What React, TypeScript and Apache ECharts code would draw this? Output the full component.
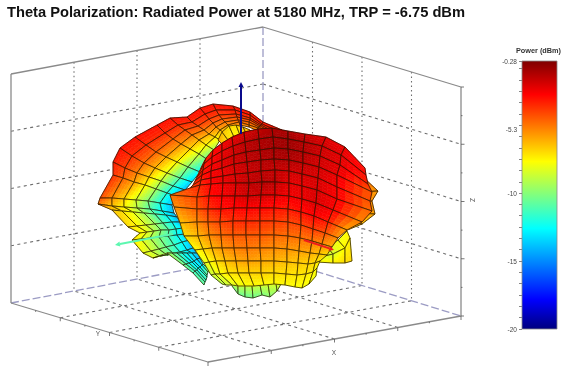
import React, { useEffect, useRef } from "react";
import * as echarts from "echarts";

const chartTitle = "Theta Polarization: Radiated Power at 5180 MHz, TRP = -6.75 dBm";
const barTitle = "Power (dBm)";
const barLabels = [-20, -15, -10, -5.3, -0.28];
const barMin = -20;
const barMax = -0.28;
const jet = ["#00007f", "#0000ff", "#00ffff", "#ffff00", "#ff0000", "#7f0000"];
const jetStops = [0, 0.11, 0.375, 0.625, 0.875, 1];

// Main lobe facing the viewer: rows top to bottom, columns left to right.
const frontX = [
  [201, 206, 213, 222, 232, 244, 258, 272, 288, 305, 326, 345, 365],
  [199, 204, 212, 222, 233, 245, 259, 273, 288, 304, 322, 341, 366],
  [197, 203, 212, 222, 234, 246, 260, 274, 288, 303, 320, 340, 368],
  [195, 202, 211, 222, 234, 247, 261, 274, 289, 303, 319, 337, 372],
  [193, 201, 211, 223, 235, 248, 261, 275, 289, 302, 318, 337, 370],
  [190, 200, 211, 223, 236, 249, 262, 275, 289, 302, 317, 337, 372],
  [170, 197, 209, 222, 235, 248, 261, 275, 289, 302, 316, 333, 362],
  [174, 197, 208, 221, 234, 247, 260, 274, 288, 301, 314, 328, 347],
  [180, 197, 208, 220, 233, 246, 260, 274, 288, 301, 313, 325, 338],
  [184, 198, 209, 221, 233, 246, 260, 274, 288, 300, 312, 322, 332],
  [195, 203, 212, 222, 234, 247, 260, 274, 287, 299, 310, 319, 327],
  [204, 209, 216, 225, 236, 248, 261, 274, 287, 298, 308, 315, 320],
  [211, 215, 220, 228, 238, 249, 261, 274, 286, 297, 306, 313, 317],
  [222, 226, 232, 238, 245, 254, 264, 274, 285, 295, 302, 309, 316],
];
const frontY = [
  [168, 158, 150, 143, 137, 132, 129, 128, 131, 134, 137, 147, 168],
  [173, 164, 157, 151, 146, 142, 139, 137, 139, 142, 146, 155, 175],
  [177, 170, 164, 160, 155, 152, 150, 148, 149, 152, 156, 165, 184],
  [181, 175, 171, 168, 164, 162, 160, 159, 160, 163, 167, 175, 192],
  [185, 180, 178, 176, 174, 173, 171, 170, 171, 174, 178, 187, 201],
  [188, 185, 184, 183, 183, 183, 182, 182, 183, 186, 190, 199, 211],
  [195, 197, 196, 196, 196, 196, 195, 195, 196, 199, 203, 210, 222],
  [207, 209, 209, 209, 208, 208, 208, 208, 209, 212, 216, 222, 230],
  [223, 222, 222, 222, 221, 221, 221, 221, 222, 225, 229, 233, 238],
  [236, 236, 235, 235, 235, 235, 235, 235, 236, 238, 241, 244, 247],
  [250, 249, 248, 248, 248, 248, 248, 248, 249, 251, 253, 254, 255],
  [263, 262, 261, 261, 261, 261, 261, 261, 262, 263, 264, 263, 261],
  [275, 274, 274, 273, 273, 273, 273, 273, 274, 275, 274, 272, 268],
  [284, 285, 285, 286, 286, 286, 285, 284, 285, 287, 288, 284, 276],
];
const frontV = [
  [-4, -3.5, -3, -2.6, -2.2, -2, -1.6, -1.2, -1.2, -1.8, -2.2, -2.5, -3],
  [-3.8, -3.2, -2.8, -2.4, -1.9, -1.5, -1.2, -1, -0.9, -1.3, -1.8, -2.2, -3],
  [-3.6, -3.2, -2.7, -2.2, -1.8, -1.4, -1.2, -1, -0.9, -1.2, -1.8, -2.2, -3.5],
  [-3.4, -3, -2.6, -2.3, -1.9, -1.5, -1.3, -1.2, -1.2, -1.5, -1.9, -2.3, -4.5],
  [-3.8, -3.3, -2.6, -2.3, -2, -1.7, -1.5, -1.6, -1.8, -1.9, -2, -2.6, -4.5],
  [-4, -3.4, -2.8, -2.4, -2, -1.5, -1.3, -1.5, -2.2, -2.3, -2, -2.6, -5],
  [-5, -4, -3, -2.6, -2.2, -1.8, -1.8, -2.1, -2.5, -2.4, -2, -2.6, -5.5],
  [-5.5, -4.5, -3.6, -3, -2.8, -2.7, -2.8, -3, -3.2, -3, -2.7, -3.2, -6],
  [-6.5, -5.4, -4.6, -4, -3.6, -3.4, -3.6, -3.8, -4, -4, -3.8, -4.2, -5.5],
  [-7, -6.3, -5.4, -4.8, -4.4, -4.4, -4.4, -4.7, -4.8, -4.9, -5, -5.4, -6],
  [-7.8, -7, -6.2, -5.6, -5.2, -5, -5.2, -5.4, -5.6, -5.8, -6, -6.5, -7],
  [-8.3, -7.8, -7, -6.5, -6, -5.8, -6, -6.2, -6.4, -6.6, -6.8, -7, -7.5],
  [-8.8, -8.3, -7.8, -7.2, -7, -6.8, -6.8, -7, -7, -7.2, -7.2, -7.4, -7.7],
  [-9.2, -8.8, -8.4, -8, -7.8, -7.6, -7.6, -7.6, -7.6, -7.7, -7.8, -7.8, -8],
];

// Rear lobe: one row per meridian, outer silhouette first, inner edge last.
const backX = [
  [282, 278, 274, 271, 268, 265, 262],
  [263, 262, 261, 260, 259, 258, 256],
  [250, 250, 250, 250, 249, 249, 249],
  [233, 235, 236, 237, 238, 239, 240],
  [213, 216, 219, 222, 225, 228, 231],
  [200, 205, 209, 213, 216, 220, 224],
  [187, 192, 198, 204, 209, 215, 220],
  [170, 178, 185, 192, 199, 206, 214],
  [157, 165, 173, 181, 190, 199, 208],
  [135, 146, 156, 166, 177, 188, 200],
  [120, 132, 144, 155, 167, 180, 192],
  [113, 125, 137, 149, 161, 173, 185],
  [113, 123, 134, 145, 156, 167, 178],
  [100, 112, 124, 136, 148, 160, 172],
  [98, 112, 124, 137, 150, 162, 174],
  [112, 122, 133, 144, 155, 166, 177],
  [128, 137, 146, 155, 163, 172, 180],
  [140, 147, 154, 161, 169, 176, 183],
  [132, 141, 150, 159, 168, 177, 185],
  [143, 151, 159, 166, 174, 182, 190],
  [153, 160, 167, 173, 180, 187, 193],
  [167, 172, 177, 182, 187, 192, 197],
  [183, 186, 189, 192, 194, 197, 200],
  [193, 195, 197, 198, 200, 202, 203],
  [204, 205, 206, 207, 207, 208, 209],
];
const backY = [
  [130, 131, 132, 132, 133, 133, 134],
  [122, 124, 125, 126, 127, 128, 130],
  [112, 115, 118, 120, 122, 125, 127],
  [106, 110, 114, 117, 120, 122, 125],
  [104, 110, 115, 119, 122, 125, 128],
  [108, 114, 119, 123, 127, 130, 133],
  [117, 122, 126, 130, 134, 137, 140],
  [118, 125, 130, 135, 140, 145, 150],
  [125, 133, 139, 144, 149, 154, 160],
  [137, 145, 152, 157, 162, 167, 172],
  [148, 156, 163, 168, 173, 178, 182],
  [162, 168, 173, 177, 181, 186, 190],
  [175, 178, 182, 185, 189, 193, 197],
  [198, 198, 199, 200, 201, 203, 205],
  [204, 206, 207, 208, 209, 211, 213],
  [210, 211, 212, 213, 214, 215, 217],
  [227, 226, 225, 224, 223, 222, 222],
  [233, 232, 231, 230, 230, 229, 228],
  [240, 239, 238, 237, 236, 235, 234],
  [253, 251, 249, 247, 245, 242, 240],
  [258, 256, 255, 253, 252, 250, 248],
  [253, 253, 253, 253, 253, 253, 253],
  [265, 264, 263, 262, 261, 259, 258],
  [273, 271, 270, 268, 267, 265, 264],
  [285, 282, 280, 277, 275, 272, 270],
];
const backV = [
  [-3, -3.2, -3.5, -4, -4.5, -5, -5.5],
  [-3, -3.2, -3.5, -4, -4.5, -5, -5.5],
  [-3, -3.2, -3.5, -4, -4.5, -5, -5.5],
  [-3, -3.2, -3.5, -4, -4.5, -5, -5.5],
  [-3, -3.3, -3.8, -4.3, -5, -5.5, -6],
  [-3, -3.3, -3.8, -4.5, -5.2, -6, -7],
  [-3, -3.5, -4, -5, -6, -7, -8],
  [-3, -3.5, -4.2, -5, -6.2, -7.5, -9.5],
  [-3, -3.5, -4.5, -5.5, -6.8, -8.5, -11],
  [-3, -3.6, -4.6, -5.9, -7.6, -10, -12.5],
  [-3, -3.6, -4.8, -6.2, -8.2, -11, -13.5],
  [-3.2, -4, -5.2, -6.8, -8.8, -11.5, -14],
  [-3.6, -4.6, -5.8, -7.4, -9.4, -12, -14],
  [-4.2, -5.5, -6.8, -8.5, -10, -12, -14],
  [-5, -6.5, -7.5, -9, -11, -12.5, -14],
  [-6.5, -7, -8, -9.5, -11, -12.5, -14],
  [-7, -7.5, -8.5, -9.5, -11, -12.5, -14],
  [-7.5, -8, -9, -10, -11, -12, -13],
  [-7, -8, -9, -10, -11, -12.5, -13.5],
  [-8, -8.5, -9.5, -10.5, -11.5, -12.5, -13.5],
  [-8, -9, -10, -11, -12, -13, -14],
  [-9, -10, -11, -12, -12.5, -13, -14],
  [-10, -11, -12, -13, -13, -13.5, -14],
  [-11, -11.5, -12, -12.5, -13, -13, -13],
  [-10.5, -11, -11.5, -11.5, -11, -10.5, -10],
];

// Small patches around the main lobe.
const dimpleX = [
  [218, 222, 229, 236, 243, 250],
  [222, 228, 234, 240, 246, 250],
];
const dimpleY = [
  [140, 132, 126, 125, 127, 130],
  [144, 140, 137, 135, 133, 131],
];
const dimpleV = [
  [-6, -6.5, -7, -7, -6.5, -6],
  [-6.5, -7, -7.5, -7.5, -7, -6.5],
];
const fringeX = [
  [232, 238, 245, 252, 260, 268, 276, 281],
  [232, 238, 245, 253, 262, 270, 277, 281],
];
const fringeY = [
  [284, 285, 285, 285, 285, 284, 283, 283],
  [286, 294, 297, 298, 295, 297, 291, 284],
];
const fringeV = [
  [-8.6, -8.6, -8.6, -8.6, -8.6, -8.4, -8.2, -8],
  [-10, -10.4, -10.6, -10.4, -10.2, -10, -9.4, -8.6],
];
const wingX = [
  [316, 328, 338, 347],
  [317, 333, 345, 350],
  [317, 333, 345, 352],
];
const wingY = [
  [253, 248, 240, 231],
  [258, 254, 248, 238],
  [262, 263, 263, 261],
];
const wingV = [
  [-8, -8, -8, -7.6],
  [-8.2, -8.6, -7.6, -7.4],
  [-7.6, -7.4, -7, -7],
];
const rimX = [
  [360, 360, 358, 354, 349, 341],
  [362, 378, 372, 375, 362, 345],
];
const rimY = [
  [178, 192, 203, 213, 221, 228],
  [176, 191, 201, 214, 224, 231],
];
const rimV = [
  [-4, -5, -5, -5, -6, -6],
  [-4.5, -5.8, -5.6, -6, -6.5, -6.5],
];
const meshes = [
  [backX, backY, backV],
  [dimpleX, dimpleY, dimpleV],
  [rimX, rimY, rimV],
  [wingX, wingY, wingV],
  [fringeX, fringeY, fringeV],
  [frontX, frontY, frontV],
];

// Box corners as seen in the picture.
const topLeft = [11, 74];
const topBack = [263, 27];
const topRight = [461, 87];
const floorLeft = [11, 303];
const floorBack = [263, 255];
const floorRight = [461, 316];
const floorFront = [208, 362];
const gridSteps = [0.25, 0.5, 0.75];
const tickSteps = [0.125, 0.25, 0.375, 0.5, 0.625, 0.75, 0.875];

// Axis arrows: tail x, tail y, tip x, tip y.
const zArrow = [241, 134, 241, 82];
const yArrow = [173, 234, 115, 245];
const xArrow = [304, 240, 334, 250];

const mix = (a: number[], b: number[], t: number) => [a[0] + (b[0] - a[0]) * t, a[1] + (b[1] - a[1]) * t];
const seg = (a: number[], b: number[]) => [a[0], a[1], b[0], b[1]];

function buildFrame() {
  const solid = [
    seg(topLeft, topBack), seg(topBack, topRight), seg(topRight, floorRight),
    seg(floorRight, floorFront), seg(floorFront, floorLeft), seg(floorLeft, topLeft),
  ];
  const back = [seg(topBack, floorBack), seg(floorLeft, floorBack), seg(floorBack, floorRight)];
  const dotted: number[][] = [];
  const dashed: number[][] = [];
  gridSteps.forEach((t) => {
    dotted.push(seg(mix(topLeft, topBack, t), mix(floorLeft, floorBack, t)));
    dotted.push(seg(mix(topBack, topRight, t), mix(floorBack, floorRight, t)));
    const l = mix(topLeft, floorLeft, t);
    const b = mix(topBack, floorBack, t);
    const r = mix(topRight, floorRight, t);
    dashed.push(seg(l, b), seg(b, r));
    dashed.push(seg(mix(floorLeft, floorFront, t), mix(floorBack, floorRight, t)));
    dashed.push(seg(mix(floorFront, floorRight, t), mix(floorLeft, floorBack, t)));
  });
  const ticks: number[][] = [];
  tickSteps.forEach((t, i) => {
    const len = i % 2 === 1 ? 3.5 : 1.5;
    const a = mix(floorLeft, floorFront, t);
    ticks.push([a[0], a[1], a[0], a[1] + len]);
    const c = mix(floorFront, floorRight, t);
    ticks.push([c[0], c[1], c[0], c[1] + len]);
    const e = mix(topRight, floorRight, t);
    ticks.push([e[0], e[1], e[0] + len, e[1]]);
  });
  ticks.push([floorFront[0], floorFront[1], floorFront[0], floorFront[1] + 4]);
  ticks.push([floorRight[0], floorRight[1], floorRight[0], floorRight[1] + 4]);
  ticks.push([topRight[0], topRight[1], topRight[0] + 3, topRight[1]]);
  ticks.push([floorRight[0], floorRight[1], floorRight[0] + 3, floorRight[1]]);
  const rows: number[][] = [];
  const add = (list: number[][], kind: number) => list.forEach((s) => rows.push([...s, kind]));
  add(dotted, 0);
  add(dashed, 1);
  add(back, 2);
  add(solid, 3);
  add(ticks, 4);
  return rows;
}

function buildCells() {
  const cells: number[][] = [];
  meshes.forEach(([xs, ys, vs]) => {
    for (let r = 0; r + 1 < xs.length; r++) {
      for (let c = 0; c + 1 < xs[r].length; c++) {
        cells.push([
          xs[r][c], ys[r][c], vs[r][c],
          xs[r][c + 1], ys[r][c + 1], vs[r][c + 1],
          xs[r + 1][c + 1], ys[r + 1][c + 1], vs[r + 1][c + 1],
          xs[r + 1][c], ys[r + 1][c], vs[r + 1][c],
        ]);
      }
    }
  });
  return cells;
}

function hexRgb(h: string) {
  return [parseInt(h.slice(1, 3), 16), parseInt(h.slice(3, 5), 16), parseInt(h.slice(5, 7), 16)];
}
function jetColor(v: number) {
  const t = Math.min(1, Math.max(0, (v - barMin) / (barMax - barMin)));
  let i = 0;
  while (i < jetStops.length - 2 && t > jetStops[i + 1]) i++;
  const f = (t - jetStops[i]) / (jetStops[i + 1] - jetStops[i]);
  const a = hexRgb(jet[i]);
  const b = hexRgb(jet[i + 1]);
  return `rgb(${Math.round(a[0] + (b[0] - a[0]) * f)},${Math.round(a[1] + (b[1] - a[1]) * f)},${Math.round(a[2] + (b[2] - a[2]) * f)})`;
}

const SUB = 4;
function renderCell(_: any, api: any) {
  const p: number[][] = [];
  const vals: number[] = [];
  for (let k = 0; k < 4; k++) {
    p.push(api.coord([api.value(k * 3), api.value(k * 3 + 1)]));
    vals.push(api.value(k * 3 + 2));
  }
  const at = (u: number, w: number) => {
    const top = mix(p[0], p[1], u);
    const bot = mix(p[3], p[2], u);
    return mix(top, bot, w);
  };
  const valAt = (u: number, w: number) =>
    (vals[0] * (1 - u) + vals[1] * u) * (1 - w) + (vals[3] * (1 - u) + vals[2] * u) * w;
  const children: any[] = [];
  for (let i = 0; i < SUB; i++) {
    for (let j = 0; j < SUB; j++) {
      const u0 = j / SUB, u1 = (j + 1) / SUB, w0 = i / SUB, w1 = (i + 1) / SUB;
      const fill = jetColor(valAt((u0 + u1) / 2, (w0 + w1) / 2));
      children.push({
        type: "polygon",
        silent: true,
        shape: { points: [at(u0, w0), at(u1, w0), at(u1, w1), at(u0, w1)] },
        style: { fill, stroke: fill, lineWidth: 0.6 },
      });
    }
  }
  children.push({
    type: "polygon",
    silent: true,
    shape: { points: p },
    style: { fill: "none", stroke: "rgba(30,18,0,0.72)", lineWidth: 1 },
  });
  return { type: "group", children };
}

const frameStyles: any[] = [
  { stroke: "#6e6e6e", lineWidth: 1.1, lineDash: [1.5, 3] },
  { stroke: "#6e6e6e", lineWidth: 1.1, lineDash: [3, 3.5] },
  { stroke: "#9c9cc4", lineWidth: 1.3, lineDash: [8, 3] },
  { stroke: "#8a8a8a", lineWidth: 1.3 },
  { stroke: "#555", lineWidth: 0.8 },
];
function renderFrame(_: any, api: any) {
  const a = api.coord([api.value(0), api.value(1)]);
  const b = api.coord([api.value(2), api.value(3)]);
  return {
    type: "line",
    silent: true,
    shape: { x1: a[0], y1: a[1], x2: b[0], y2: b[1] },
    style: { ...frameStyles[api.value(4)], fill: "none" },
  };
}

const arrowColors = ["#0a0a8c", "#5cf7b0", "#ee1c1c"];
function renderArrow(_: any, api: any) {
  const a = api.coord([api.value(0), api.value(1)]);
  const b = api.coord([api.value(2), api.value(3)]);
  const color = arrowColors[api.value(4)];
  const dx = b[0] - a[0], dy = b[1] - a[1];
  const L = Math.hypot(dx, dy);
  const ux = dx / L, uy = dy / L;
  const bx = b[0] - ux * 5, by = b[1] - uy * 5;
  return {
    type: "group",
    silent: true,
    children: [
      { type: "line", silent: true, shape: { x1: a[0], y1: a[1], x2: bx, y2: by }, style: { stroke: color, lineWidth: 2 } },
      {
        type: "polygon",
        silent: true,
        shape: { points: [b, [bx - uy * 2.5, by + ux * 2.5], [bx + uy * 2.5, by - ux * 2.5]] },
        style: { fill: color },
      },
    ],
  };
}

function renderBar(_: any, api: any) {
  const a = api.coord([0, barMax]);
  const b = api.coord([1, barMin]);
  return {
    type: "rect",
    silent: true,
    shape: { x: a[0], y: a[1], width: b[0] - a[0], height: b[1] - a[1] },
    style: {
      fill: new echarts.graphic.LinearGradient(0, 1, 0, 0, jetStops.map((s, i) => ({ offset: s, color: jet[i] }))),
      stroke: "#888",
      lineWidth: 0.8,
    },
  };
}

const barMinorTicks: number[] = [];
for (let k = 0; k <= 23; k++) barMinorTicks.push(barMin + (k * 5) / 6);

export default function App() {
  const ref = useRef<HTMLDivElement>(null);
  useEffect(() => {
    document.body.style.margin = "0";
    const chart = echarts.init(ref.current!, undefined, { renderer: "svg" });
    const axisText = { fontFamily: "Liberation Sans", fontSize: 6.5, fill: "#555" };
    chart.setOption({
      animation: false,
      backgroundColor: "#fff",
      title: [
        {
          text: chartTitle,
          left: 7,
          top: 4,
          padding: 0,
          textStyle: { fontFamily: "Liberation Sans", fontSize: 14.7, fontWeight: "bold", color: "#111" },
        },
        {
          text: barTitle,
          left: 516,
          top: 47,
          padding: 0,
          textStyle: { fontFamily: "Liberation Sans", fontSize: 7.3, fontWeight: "bold", color: "#333" },
        },
      ],
      grid: [
        { left: 0, top: 0, width: 563, height: 373 },
        { left: 522, top: 61, width: 35, height: 268 },
      ],
      xAxis: [
        { type: "value", min: 0, max: 563, show: false, gridIndex: 0 },
        { type: "value", min: 0, max: 1, show: false, gridIndex: 1 },
      ],
      yAxis: [
        { type: "value", min: 0, max: 373, inverse: true, show: false, gridIndex: 0 },
        {
          type: "value",
          gridIndex: 1,
          min: barMin,
          max: barMax,
          splitLine: { show: false },
          axisLine: { show: false },
          axisTick: { show: true, customValues: [...barMinorTicks, barMax], length: 3, lineStyle: { color: "#666", width: 0.8 } },
          axisLabel: {
            customValues: barLabels,
            margin: 5,
            fontSize: 6.5,
            fontFamily: "Liberation Sans",
            color: "#444",
            showMinLabel: true,
            showMaxLabel: true,
            formatter: (v: number) => String(v),
          },
        },
      ],
      series: [
        {
          type: "custom",
          coordinateSystem: "cartesian2d",
          xAxisIndex: 0,
          yAxisIndex: 0,
          clip: false,
          renderItem: renderFrame,
          data: buildFrame(),
          encode: { x: [0, 2], y: [1, 3] },
          silent: true,
          z: 1,
        },
        {
          type: "custom",
          coordinateSystem: "cartesian2d",
          xAxisIndex: 0,
          yAxisIndex: 0,
          clip: false,
          renderItem: renderCell,
          data: buildCells(),
          encode: { x: [0, 3, 6, 9], y: [1, 4, 7, 10] },
          silent: true,
          z: 2,
        },
        {
          type: "custom",
          coordinateSystem: "cartesian2d",
          xAxisIndex: 0,
          yAxisIndex: 0,
          clip: false,
          renderItem: renderArrow,
          data: [[...zArrow, 0], [...yArrow, 1], [...xArrow, 2]],
          encode: { x: [0, 2], y: [1, 3] },
          silent: true,
          z: 3,
        },
        {
          type: "custom",
          coordinateSystem: "cartesian2d",
          xAxisIndex: 1,
          yAxisIndex: 1,
          renderItem: renderBar,
          data: [[0, barMin, 1, barMax]],
          silent: true,
          z: 2,
        },
      ],
      graphic: [
        { type: "text", x: 98, y: 333, silent: true, style: { ...axisText, text: "Y", align: "center", verticalAlign: "middle" } },
        { type: "text", x: 334, y: 352, silent: true, style: { ...axisText, text: "X", align: "center", verticalAlign: "middle" } },
        { type: "text", x: 472, y: 200, rotation: -Math.PI / 2, silent: true, style: { ...axisText, text: "Z", align: "center", verticalAlign: "middle" } },
      ],
    });
    return () => chart.dispose();
  }, []);
  return <div ref={ref} style={{ width: 563, height: 373, filter: "blur(0.5px)" }} />;
}
